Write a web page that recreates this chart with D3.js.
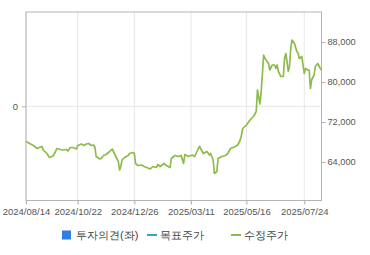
<!DOCTYPE html>
<html lang="ko">
<head>
<meta charset="utf-8">
<script src="https://d3js.org/d3.v7.min.js"></script>
<style>
  body { margin: 0; background: #fff; }
  svg text { font-family: Arial, "Liberation Sans", sans-serif; }
</style>
</head>
<body>
<div id="chart"></div>
<script>
// trading-day index since 2024/08/14 and adjusted close (원)
const days = [0, 3, 6, 9, 11, 13, 14, 17, 19, 22, 24, 25, 28, 30, 33, 34, 36, 38, 41, 42,
  45, 47, 49, 51, 53, 55, 56, 57, 60, 61, 63, 65, 68, 70, 71, 73, 75, 76, 77, 78,
  80, 83, 84, 87, 88, 89, 91, 94, 96, 98, 101, 103, 106, 107, 109, 112, 114, 117, 118, 121,
  124, 126, 128, 129, 132, 135, 137, 140, 141, 144, 147, 149, 150, 152, 153, 155, 156, 159, 162, 164,
  166, 170, 172, 174, 175, 176, 179, 182, 185, 187, 188, 189, 190, 191, 192, 193, 194, 195, 197, 198,
  200, 202, 203, 204, 205, 207, 209, 210, 211, 212, 213, 214, 215, 216, 218, 220, 221, 222, 224, 225,
  226, 227, 229, 230, 231, 232, 234, 235, 237, 239, 240];
const prices = [68100, 67700, 67300, 66700, 66900, 67100, 66400, 65700, 64900, 65200, 66100, 66700, 66500, 66400, 66500, 66200, 66900, 66900, 66600, 67300,
  67600, 67300, 67600, 67700, 67300, 67400, 66900, 65100, 64600, 64700, 65300, 65500, 66100, 66600, 66100, 65100, 64100, 62400, 63100, 64400,
  64900, 65300, 65700, 65900, 65700, 63700, 63300, 63400, 63100, 62900, 62600, 63100, 62900, 63500, 63100, 63700, 63300, 62900, 64700, 65300,
  65100, 65300, 63700, 65500, 65100, 65400, 65100, 66700, 67100, 65700, 66100, 65400, 65700, 64400, 61700, 62100, 64700, 65100, 65300, 65700,
  66700, 67100, 67400, 68400, 69400, 70700, 71400, 72400, 73200, 74100, 78400, 77000, 75600, 78000, 81600, 85400, 84800, 84400, 83700, 82400,
  83400, 83400, 82700, 83400, 82100, 81100, 81100, 84700, 85700, 84100, 82100, 83100, 86700, 88400, 87700, 86100, 85700, 84700, 85100, 83400,
  81700, 82700, 82400, 82400, 78700, 80400, 81400, 83100, 83700, 82700, 82400];

const tickDays = [0, 42, 88, 134, 179, 226];
const tickLabels = ["2024/08/14", "2024/10/22", "2024/12/26", "2025/03/11", "2025/05/16", "2025/07/24"];
const priceTicks = [64000, 72000, 80000, 88000];
const legendLabels = ["투자의견(좌)", "목표주가", "수정주가"];

const W = 370, H = 255;
const plotL = 26, plotR = 321.5, plotT = 12, plotB = 200.5;

const svg = d3.select("#chart").append("svg")
  .attr("width", W).attr("height", H);

const x = d3.scaleLinear().domain([0, 240]).range([plotL, plotR]);
const y = d3.scaleLinear().domain([56300, 94000]).range([plotB, plotT]);
const yL = d3.scaleLinear().domain([-1, 1]).range([plotB, plotT]);

// vertical grid
svg.append("g")
  .selectAll("line")
  .data(tickDays)
  .enter().append("line")
  .attr("x1", d => x(d)).attr("x2", d => x(d))
  .attr("y1", plotT).attr("y2", plotB + 4)
  .attr("stroke", "#e6e6e6");

// zero line of left axis
svg.append("line")
  .attr("x1", plotL).attr("x2", plotR)
  .attr("y1", yL(0)).attr("y2", yL(0))
  .attr("stroke", "#e6e6e6");

// frame
svg.append("rect")
  .attr("x", plotL).attr("y", plotT)
  .attr("width", plotR - plotL).attr("height", plotB - plotT)
  .attr("fill", "none").attr("stroke", "#b4b4b4");

// x axis labels
const xAxis = svg.append("g")
  .attr("transform", `translate(0,${plotB})`)
  .call(d3.axisBottom(x).tickValues(tickDays)
    .tickFormat((d, i) => tickLabels[i]).tickSize(4).tickPadding(4));
xAxis.select(".domain").remove();
xAxis.selectAll("line").attr("stroke", "#b4b4b4");
xAxis.selectAll("text").attr("fill", "#555").attr("font-size", "9.5px");

// left axis (투자의견)
const lAxis = svg.append("g")
  .attr("transform", `translate(${plotL},0)`)
  .call(d3.axisLeft(yL).tickValues([0]).tickFormat(d3.format("d")).tickSize(4).tickPadding(4));
lAxis.select(".domain").remove();
lAxis.selectAll("line").attr("stroke", "#b4b4b4");
lAxis.selectAll("text").attr("fill", "#555").attr("font-size", "9.5px");

// right axis (주가)
const rAxis = svg.append("g")
  .attr("transform", `translate(${plotR},0)`)
  .call(d3.axisRight(y).tickValues(priceTicks).tickFormat(d3.format(",")).tickSize(4).tickPadding(2));
rAxis.select(".domain").remove();
rAxis.selectAll("line").attr("stroke", "#b4b4b4");
rAxis.selectAll("text").attr("fill", "#555").attr("font-size", "9.2px");

// price line
const series = days.map((d, i) => ({ day: d, price: prices[i] }));
svg.append("path")
  .datum(series)
  .attr("fill", "none")
  .attr("stroke", "#8dbb4c")
  .attr("stroke-width", 1.7)
  .attr("stroke-linejoin", "round")
  .attr("d", d3.line().x(d => x(d.day)).y(d => y(d.price)));

// legend
const lg = svg.append("g").attr("transform", "translate(0,235)");
lg.append("rect").attr("x", 62).attr("y", -4.5).attr("width", 9).attr("height", 9).attr("fill", "#2f7fe2");
lg.append("text").attr("x", 76).attr("y", 4).attr("font-size", "11px").attr("fill", "#444").text(legendLabels[0]);
lg.append("line").attr("x1", 147).attr("x2", 157).attr("y1", 0).attr("y2", 0).attr("stroke", "#2eaab6").attr("stroke-width", 2);
lg.append("text").attr("x", 160).attr("y", 4).attr("font-size", "11px").attr("fill", "#444").text(legendLabels[1]);
lg.append("line").attr("x1", 231).attr("x2", 241).attr("y1", 0).attr("y2", 0).attr("stroke", "#8dbb4c").attr("stroke-width", 2);
lg.append("text").attr("x", 244).attr("y", 4).attr("font-size", "11px").attr("fill", "#444").text(legendLabels[2]);
</script>
</body>
</html>
